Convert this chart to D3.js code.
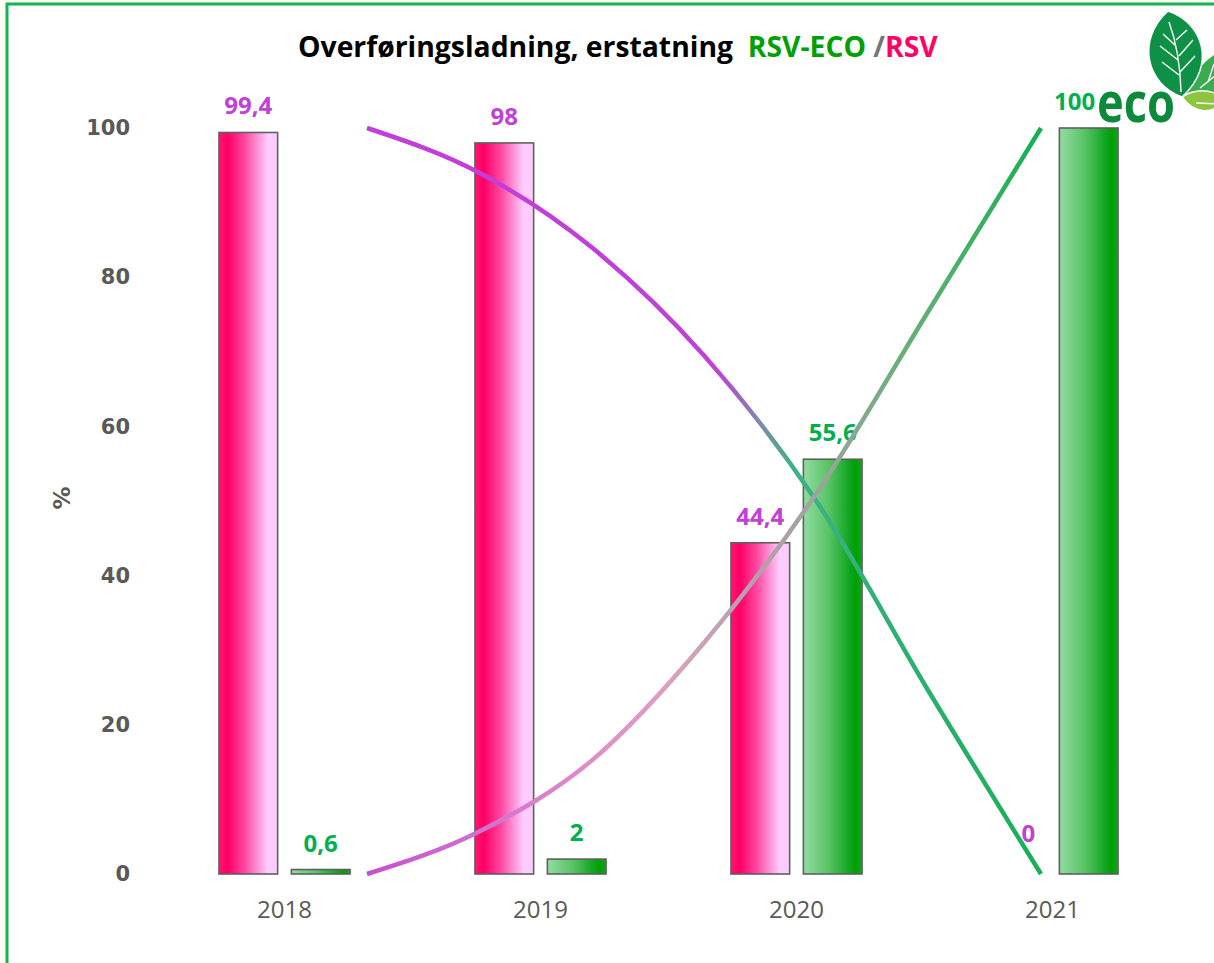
<!DOCTYPE html>
<html>
<head>
<meta charset="utf-8">
<script src="https://cdn.jsdelivr.net/npm/d3@7"></script>
<style>
  html, body { margin: 0; padding: 0; background: #fffdf2; }
  svg { display: block; }
</style>
</head>
<body>
<script>
// data
const years = ["2018", "2019", "2020", "2021"];
const rsv = [99.4, 98, 44.4, 0];
const eco = [0.6, 2, 55.6, 100];
const yTicks = [0, 20, 40, 60, 80, 100];
// the two crossing curves, sampled along their own x position
const curveT = [0, 0.5, 1, 1.5, 2, 2.5, 3];
const curveUp = [0, 5.7, 15.2, 31, 51, 75.5, 100];
const curveDown = [100, 94, 84, 69.5, 50, 24.5, 0];

const W = 1214, H = 963;
const svg = d3.select("body").append("svg")
    .attr("width", W)
    .attr("height", H);

const defs = svg.append("defs");

// frame
svg.append("rect")
    .attr("x", 7).attr("y", 4)
    .attr("width", W + 10).attr("height", H + 10)
    .attr("fill", "#fff")
    .attr("stroke", "#14b454")
    .attr("stroke-width", 3);

const y = d3.scaleLinear().domain([0, 100]).range([874, 128]);
const x = d3.scaleBand().domain(years).range([156.5, 1180.5])
    .paddingInner(0.488).paddingOuter(0.244);
const xs = d3.scaleBand().domain(["RSV", "ECO"]).range([0, x.bandwidth()])
    .paddingInner(0.19);
const xc = d3.scaleLinear().domain([0, 3]).range([367, 1041]);

// gradients for bars
function barGrad(id, stops) {
    const g = defs.append("linearGradient").attr("id", id)
        .attr("x1", 0).attr("x2", 1).attr("y1", 0).attr("y2", 0);
    stops.forEach(s => g.append("stop").attr("offset", s[0]).attr("stop-color", s[1]));
}
barGrad("gRsv", [[0, "#ff1472"], [0.15, "#ff0066"], [0.45, "#ff4aa2"], [0.75, "#ffb2ea"], [0.83, "#ffccff"], [1, "#ffccff"]]);
barGrad("gEco", [[0, "#92dca2"], [0.45, "#55c262"], [0.8, "#0ca41e"], [0.9, "#00a000"], [1, "#12a424"]]);

function lineGrad(id, stops) {
    const g = defs.append("linearGradient").attr("id", id)
        .attr("gradientUnits", "userSpaceOnUse")
        .attr("x1", xc(0)).attr("x2", xc(3)).attr("y1", 0).attr("y2", 0);
    stops.forEach(s => g.append("stop").attr("offset", s[0]).attr("stop-color", s[1]));
}
lineGrad("gDown", [[0, "#c23ed8"], [0.52, "#c040d8"], [0.58, "#8088b0"], [0.63, "#40b088"], [1, "#16b056"]]);
lineGrad("gUp", [[0, "#c64ed4"], [0.16, "#d070cc"], [0.34, "#e08ec8"], [0.45, "#dca0bc"], [0.56, "#b8a0b0"], [0.66, "#a0a2a0"], [0.75, "#7eaa88"], [0.83, "#5cb070"], [1, "#12b052"]]);

// axes
const yAxis = svg.append("g")
    .attr("transform", "translate(140,0)")
    .call(d3.axisLeft(y).tickValues(yTicks).tickSize(0).tickPadding(10));
yAxis.select(".domain").remove();
yAxis.selectAll("text")
    .attr("fill", "#595959")
    .style("font-family", "DejaVu Sans")
    .style("font-weight", "bold")
    .style("font-size", "21px");

const xAxis = svg.append("g")
    .attr("transform", "translate(0,874)")
    .call(d3.axisBottom(x).tickSize(0).tickPadding(27));
xAxis.select(".domain").remove();
xAxis.selectAll("text")
    .attr("fill", "#595959")
    .style("font-family", "Open Sans")
    .style("font-size", "24px");

svg.append("text")
    .attr("transform", "translate(70,498) rotate(-90)")
    .attr("text-anchor", "middle")
    .attr("fill", "#595959")
    .style("font-family", "DejaVu Sans")
    .style("font-weight", "bold")
    .style("font-size", "23px")
    .text("%");

// bars
const groups = svg.append("g").selectAll("g")
    .data(years)
    .join("g")
    .attr("transform", d => `translate(${x(d)},0)`);

groups.each(function (d, i) {
    const g = d3.select(this);
    [["RSV", rsv[i], "url(#gRsv)"], ["ECO", eco[i], "url(#gEco)"]].forEach(s => {
        if (s[1] <= 0) return;
        g.append("rect")
            .attr("x", xs(s[0]))
            .attr("y", y(s[1]))
            .attr("width", xs.bandwidth())
            .attr("height", y(0) - y(s[1]))
            .attr("fill", s[2])
            .attr("stroke", "#606060")
            .attr("stroke-width", 1.6);
    });
});

// curves
const line = d3.line()
    .x((d, i) => xc(curveT[i]))
    .y(d => y(d))
    .curve(d3.curveMonotoneX);

svg.append("path")
    .attr("d", line(curveDown))
    .attr("fill", "none")
    .attr("stroke", "url(#gDown)")
    .attr("stroke-width", 4.5);
svg.append("path")
    .attr("d", line(curveUp))
    .attr("fill", "none")
    .attr("stroke", "url(#gUp)")
    .attr("stroke-width", 4.5);

// value labels
const fmt = v => String(v).replace(".", ",");
groups.each(function (d, i) {
    const g = d3.select(this);
    [["RSV", rsv[i], "#c040d8"], ["ECO", eco[i], "#00b050"]].forEach(s => {
        // the 100 label sits half behind the logo in the original
        const shift = s[1] === 0 ? 12 : (s[1] === 100 ? -14 : 0);
        g.append("text")
            .attr("x", xs(s[0]) + xs.bandwidth() / 2 + shift)
            .attr("y", y(s[1]) - (s[1] === 0 ? 32 : 18))
            .attr("text-anchor", "middle")
            .attr("fill", s[2])
            .style("font-family", "Open Sans")
            .style("font-weight", "bold")
            .style("font-size", "24px")
            .text(fmt(s[1]));
    });
});

// title
const title = svg.append("text")
    .attr("x", 298)
    .attr("y", 57)
    .style("font-family", "Open Sans")
    .style("font-weight", "bold")
    .style("font-size", "24px")
    .style("white-space", "pre")
    .attr("xml:space", "preserve");
title.append("tspan").attr("fill", "#000").text("Overføringsladning, erstatning  ");
title.append("tspan").attr("fill", "#00a000").text("RSV-ECO ");
title.append("tspan").attr("fill", "#767676").text("/");
title.append("tspan").attr("fill", "#ff0066").text("RSV");
const tw = title.node().getComputedTextLength();
title.style("font-size", (24 * 640 / tw) + "px");

// eco logo
const logo = svg.append("g");
logo.append("rect")
    .attr("x", 1096).attr("y", 8)
    .attr("width", 130).attr("height", 116)
    .attr("fill", "#fff");
logo.append("path")
    .attr("d", "M1182,97 C1194,70 1206,56 1226,48 L1226,98 C1210,94 1194,96 1182,97 Z")
    .attr("fill", "#3aab4e")
    .attr("stroke", "#fff").attr("stroke-width", 1.5);
logo.append("path")
    .attr("d", "M1182,97 C1196,88 1212,90 1226,98 C1214,116 1194,114 1182,97 Z")
    .attr("fill", "#8cc63f")
    .attr("stroke", "#fff").attr("stroke-width", 1.5);
logo.append("path")
    .attr("d", "M1182,97 C1146,84 1136,40 1168,11 C1202,22 1218,64 1182,97 Z")
    .attr("fill", "#0e9146")
    .attr("stroke", "#fff").attr("stroke-width", 1.5);
logo.append("path")
    .attr("d", "M1181,92 Q1180,52 1169,22 M1179,75 L1162,62 M1178,60 L1160,46 M1176,46 L1163,34 M1180,72 L1195,56 M1179,56 L1193,40 M1176,40 L1187,30 M1200,88 L1222,70 M1208,82 L1214,64 M1196,103 L1222,104")
    .attr("fill", "none")
    .attr("stroke", "#fff")
    .attr("stroke-width", 1.4);
logo.append("text")
    .attr("x", 1097)
    .attr("y", 122)
    .attr("textLength", 78)
    .attr("lengthAdjust", "spacingAndGlyphs")
    .attr("fill", "#0b8a3c")
    .style("font-family", "Open Sans")
    .style("font-weight", "bold")
    .style("font-size", "56px")
    .text("eco");
</script>
</body>
</html>
